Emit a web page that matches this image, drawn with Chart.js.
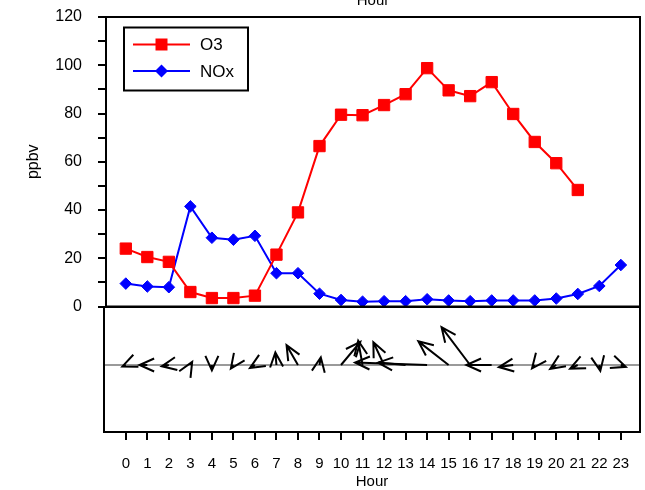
<!DOCTYPE html>
<html><head><meta charset="utf-8">
<script src="https://cdn.jsdelivr.net/npm/chart.js@4.4.1/dist/chart.umd.min.js"></script>
<style>
html,body{margin:0;padding:0;background:#fff;}
#wrap{position:relative;width:645px;height:490px;overflow:hidden;background:#fff;}
#bot{position:absolute;left:0;top:300px;}
#top{position:absolute;left:0;top:0;}
</style></head><body>
<div id="wrap">
<canvas id="bot" width="645" height="195"></canvas>
<canvas id="top" width="645" height="320"></canvas>
</div>
<script>
// ---- data ----
const hours = [0,1,2,3,4,5,6,7,8,9,10,11,12,13,14,15,16,17,18,19,20,21,22,23];
const o3 = [24, 20.5, 18.5, 6, 3.5, 3.5, 4.5, 21.5, 39, 66.5, 79.5, 79.3, 83.5, 88, 98.8, 89.6, 87.2, 93, 79.8, 68.2, 59.4, 48.3, null, null];
const nox = [9.5, 8.3, 8, 41.5, 28.5, 27.7, 29.3, 13.8, 13.8, 5.3, 2.7, 2, 2.2, 2.2, 3, 2.5, 2.2, 2.5, 2.5, 2.5, 3.3, 5.2, 8.5, 17.2];
// wind components (mph): east (u) and north (v)
const windU = [-0.28, -0.65, -0.59, 0.15, 0, -0.21, -0.41, -0.09, -0.95, 0.11, 1.61, -0.36, -0.89, -2.29, -6.0, -2.52, -2.38, -2.1, -1.19, -0.22, -0.50, -0.63, 0.09, 0.42];
const windV = [-0.12, 0, -0.11, 0.26, -0.45, -0.30, -0.25, 1.05, 1.65, 0.64, 1.92, 2.02, 1.90, 0.20, 0.21, 1.97, 3.15, 0, -0.17, -0.28, -0.33, -0.30, -0.49, -0.15];
const yTickLabels = [0, 20, 40, 60, 80, 100, 120];
const legendScaleMph = 1;

const FONT = '"Liberation Sans", Arial, sans-serif';
Chart.defaults.font.family = FONT;
Chart.defaults.color = '#000';

// ---- top panel ----
const topPlugin = {
  id: 'topDeco',
  afterDraw(chart) {
    const {ctx, chartArea: a} = chart;
    ctx.save();
    ctx.strokeStyle = '#000';
    ctx.lineWidth = 2;
    ctx.strokeRect(a.left, a.top, a.right - a.left, a.bottom - a.top);
    // cut-off top axis title
    ctx.fillStyle = '#000';
    ctx.font = '15px ' + FONT;
    ctx.textAlign = 'center';
    ctx.textBaseline = 'alphabetic';
    ctx.fillText('Hour', (a.left + a.right) / 2, 5);
    // legend
    const lx = a.left + 18, ly = a.top + 10.5;
    ctx.strokeRect(lx, ly, 124, 63);
    const items = [
      {label: 'O3', color: '#ff0000', shape: 'rect', y: ly + 17},
      {label: 'NOx', color: '#0000ff', shape: 'diamond', y: ly + 43.5}
    ];
    items.forEach(it => {
      ctx.strokeStyle = it.color;
      ctx.fillStyle = it.color;
      ctx.lineWidth = 2;
      ctx.beginPath();
      ctx.moveTo(lx + 9, it.y);
      ctx.lineTo(lx + 66, it.y);
      ctx.stroke();
      const cx = lx + 37.5;
      ctx.beginPath();
      if (it.shape === 'rect') {
        ctx.rect(cx - 6, it.y - 6, 12, 12);
      } else {
        ctx.moveTo(cx - 6.5, it.y); ctx.lineTo(cx, it.y - 6.5);
        ctx.lineTo(cx + 6.5, it.y); ctx.lineTo(cx, it.y + 6.5);
        ctx.closePath();
      }
      ctx.fill();
      ctx.fillStyle = '#000';
      ctx.font = '17px ' + FONT;
      ctx.textAlign = 'left';
      ctx.textBaseline = 'middle';
      ctx.fillText(it.label, lx + 76, it.y + 1);
    });
    ctx.restore();
  }
};

new Chart(document.getElementById('top'), {
  type: 'line',
  data: {
    datasets: [
      {label: 'O3', data: hours.map((h, i) => ({x: h, y: o3[i]})),
       borderColor: '#ff0000', backgroundColor: '#ff0000', borderWidth: 2,
       pointStyle: 'rect', pointRadius: 8, pointBorderWidth: 1, spanGaps: false},
      {label: 'NOx', data: hours.map((h, i) => ({x: h, y: nox[i]})),
       borderColor: '#0000ff', backgroundColor: '#0000ff', borderWidth: 2,
       pointStyle: 'rectRot', pointRadius: 5.8, pointBorderWidth: 1}
    ]
  },
  options: {
    responsive: false, animation: false, devicePixelRatio: 1,
    layout: {autoPadding: false, padding: {top: 17, right: 5, bottom: 13.5, left: 0}},
    plugins: {legend: {display: false}, tooltip: {enabled: false}},
    scales: {
      x: {type: 'linear', min: -0.92, max: 23.89, display: false},
      y: {
        type: 'linear', min: 0, max: 120,
        afterFit: s => { s.width = 106; s.paddingTop = 0; s.paddingBottom = 0; },
        ticks: {stepSize: 10, padding: 16, font: {size: 16}, color: '#000',
                callback: v => yTickLabels.includes(v) ? String(v) : ''},
        grid: {drawOnChartArea: false, drawTicks: true, tickLength: 8, color: '#000', lineWidth: 2},
        border: {display: false},
        title: {display: true, text: 'ppbv', font: {size: 16}, color: '#000', padding: {top: 24, bottom: 0}}
      }
    }
  },
  plugins: [topPlugin]
});

// ---- bottom (wind) panel ----
const windPlugin = {
  id: 'wind',
  afterDraw(chart) {
    const {ctx, chartArea: a, scales} = chart;
    const xs = scales.x, ys = scales.y;
    const y0 = ys.getPixelForValue(0);
    const ppm = ys.getPixelForValue(0) - ys.getPixelForValue(1); // px per mph
    ctx.save();
    // gray zero line
    ctx.strokeStyle = '#9a9a9a';
    ctx.lineWidth = 2;
    ctx.beginPath(); ctx.moveTo(a.left, y0); ctx.lineTo(a.right, y0); ctx.stroke();
    // arrows
    ctx.strokeStyle = '#000';
    ctx.lineWidth = 2;
    const arm = 16, half = 24 * Math.PI / 180;
    hours.forEach((h, i) => {
      const x0 = xs.getPixelForValue(h);
      const x1 = x0 + windU[i] * ppm;
      const y1 = y0 - windV[i] * ppm;
      const ang = Math.atan2(y1 - y0, x1 - x0);
      ctx.beginPath();
      ctx.moveTo(x0, y0); ctx.lineTo(x1, y1);
      ctx.moveTo(x1 - arm * Math.cos(ang - half), y1 - arm * Math.sin(ang - half));
      ctx.lineTo(x1, y1);
      ctx.lineTo(x1 - arm * Math.cos(ang + half), y1 - arm * Math.sin(ang + half));
      ctx.stroke();
    });
    // frame
    ctx.strokeRect(a.left, a.top, a.right - a.left, a.bottom - a.top);
    // scale legend
    ctx.strokeRect(501, 379, 86, 36);
    ctx.beginPath(); ctx.moveTo(508, 396); ctx.lineTo(508 + legendScaleMph * ppm, 396); ctx.stroke();
    ctx.fillStyle = '#000';
    ctx.font = '14px ' + FONT;
    ctx.textAlign = 'left'; ctx.textBaseline = 'middle';
    ctx.fillText('1 mph', 529, 397);
    ctx.restore();
  }
};

new Chart(document.getElementById('bot'), {
  type: 'line',
  data: {datasets: []},
  options: {
    responsive: false, animation: false, devicePixelRatio: 1,
    layout: {autoPadding: false, padding: {top: 7, right: 5, bottom: 0, left: 104}},
    plugins: {legend: {display: false}, tooltip: {enabled: false}},
    scales: {
      x: {
        type: 'linear', min: -1.013, max: 23.894,
        afterFit: s => { s.height = 63; },
        afterBuildTicks: s => { s.ticks = hours.map(h => ({value: h})); },
        ticks: {autoSkip: false, maxRotation: 0, padding: 15, font: {size: 15}, color: '#000',
                callback: v => String(v)},
        grid: {drawOnChartArea: false, drawTicks: true, tickLength: 8, color: '#000', lineWidth: 2},
        border: {display: false},
        title: {display: true, text: 'Hour', font: {size: 15}, color: '#000', padding: {top: 0, bottom: 4}}
      },
      y: {type: 'linear', min: -5.583, max: 4.833, display: false}
    }
  },
  plugins: [windPlugin]
});
</script>
</body></html>
